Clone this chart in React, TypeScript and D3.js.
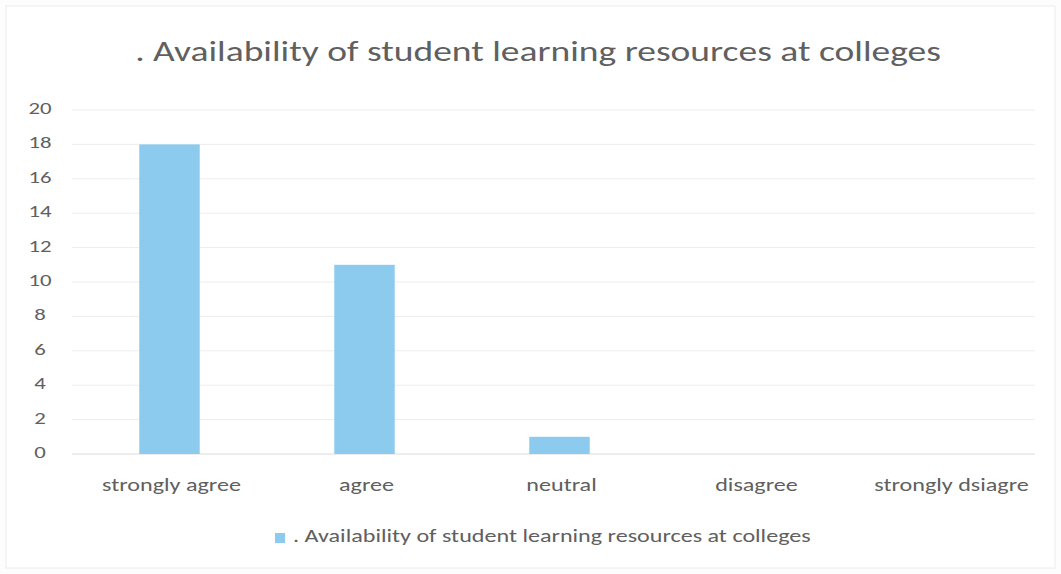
import { scaleBand, scaleLinear } from 'd3'
import type { ReactNode } from 'react'

const categories = ['strongly agree', 'agree', 'neutral', 'disagree', 'strongly dsiagre']
const values = [18, 11, 1, 0, 0]
const yTicks = [0, 2, 4, 6, 8, 10, 12, 14, 16, 18, 20]
const title = '. Availability of student learning resources at colleges'

const width = 1061
const height = 574
const margin = { top: 110, right: 14, bottom: 120, left: 72 }
const font = 'Calibri, Carlito, Lato, sans-serif'
const textColor = '#606060'
const barColor = '#8ccaee'
// the scanned chart is stretched sideways, so the text is widened to match
const stretch = 1.34

interface WideTextProps {
  x: number
  y: number
  size: number
  anchor?: 'start' | 'middle' | 'end'
  children: ReactNode
}

const WideText = ({ x, y, size, anchor = 'start', children }: WideTextProps) => (
  <text
    transform={`translate(${x}, ${y}) scale(${stretch}, 1)`}
    textAnchor={anchor}
    dominantBaseline="middle"
    fontSize={size}
    fill={textColor}
  >
    {children}
  </text>
)

const App = () => {
  const x = scaleBand<string>()
    .domain(categories)
    .range([margin.left, width - margin.right])
    .paddingInner(0.69)
    .paddingOuter(0.345)
  const band = scaleBand<string>().domain(categories).range([margin.left, width - margin.right])
  const y = scaleLinear().domain([0, 20]).range([height - margin.bottom, margin.top])

  return (
    <svg
      width={width}
      height={height}
      style={{ position: 'absolute', left: 0, top: 0, fontFamily: font }}
    >
      <rect x={0} y={0} width={width} height={height} fill="#fdfdfd" />
      <rect x={6} y={6} width={width - 12} height={height - 12} fill="#ffffff" stroke="#ececec" />
      <WideText x={538} y={54} size={28} anchor="middle">
        {title}
      </WideText>
      {yTicks.map((t) => (
        <g key={t}>
          <line
            x1={margin.left}
            x2={width - margin.right - 12}
            y1={y(t)}
            y2={y(t)}
            stroke={t === 0 ? '#dcdcdc' : '#ededed'}
          />
          <WideText x={40} y={y(t)} size={17} anchor="middle">
            {t}
          </WideText>
        </g>
      ))}
      {categories.map((c, i) => (
        <g key={c}>
          {values[i] > 0 && (
            <rect x={x(c)} y={y(values[i])} width={x.bandwidth()} height={y(0) - y(values[i])} fill={barColor} />
          )}
          <WideText x={(band(c) ?? 0) + band.bandwidth() / 2 + 2} y={487} size={18} anchor="middle">
            {c}
          </WideText>
        </g>
      ))}
      <rect x={275} y={533} width={10} height={10} fill={barColor} />
      <WideText x={293} y={538} size={18}>
        {title}
      </WideText>
    </svg>
  )
}

export default App
